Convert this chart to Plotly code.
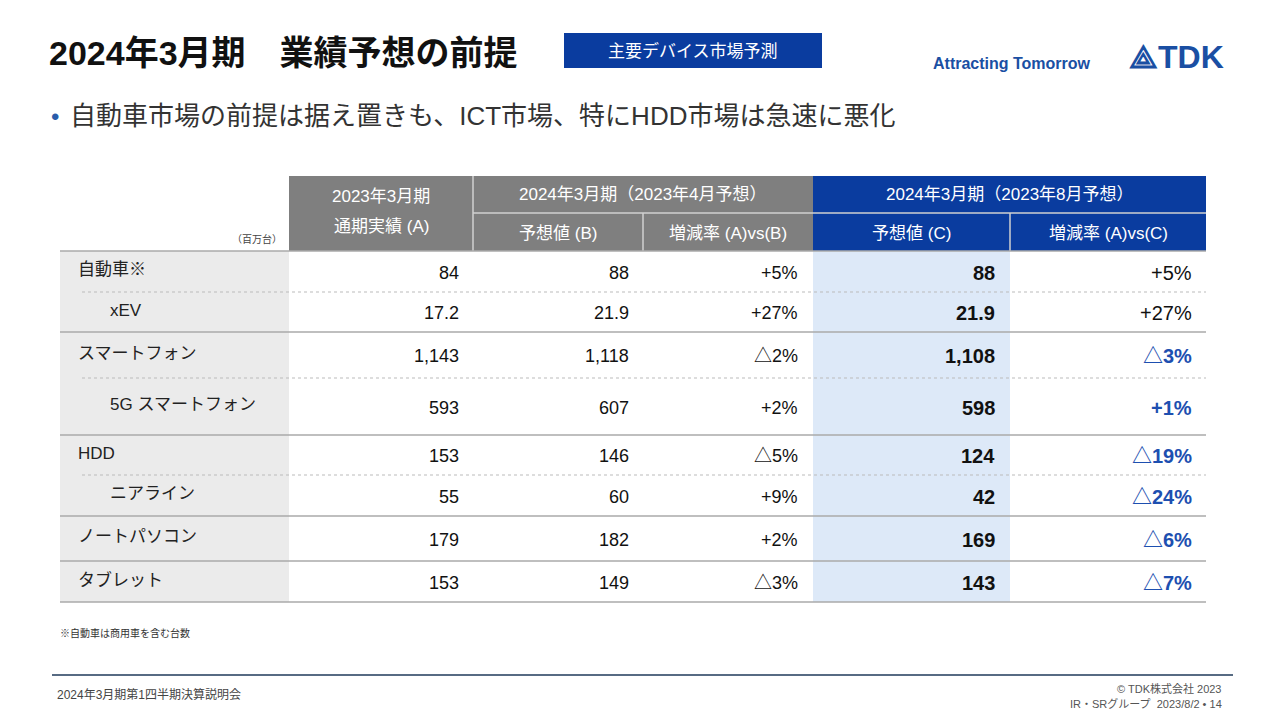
import plotly.graph_objects as go

categories = ["自動車※", "xEV", "スマートフォン", "5G スマートフォン", "HDD", "ニアライン", "ノートパソコン", "タブレット"]
is_sub = [False, True, False, True, False, True, False, False]
actual_a = ["84", "17.2", "1,143", "593", "153", "55", "179", "153"]
forecast_b = ["88", "21.9", "1,118", "607", "146", "60", "182", "149"]
rate_ab = ["+5%", "+27%", "△2%", "+2%", "△5%", "+9%", "+2%", "△3%"]
forecast_c = ["88", "21.9", "1,108", "598", "124", "42", "169", "143"]
rate_ac = ["+5%", "+27%", "△3%", "+1%", "△19%", "△24%", "△6%", "△7%"]
row_edges = [251, 292, 332, 378, 435, 475, 516, 561, 602]

F = "Liberation Sans, Arial, Noto Sans CJK JP"
BLUE = "#0a3c9f"
GRAY = "#7f7f7f"
fig = go.Figure()
shapes = []
ann = []

def rect(x0, y0, x1, y1, color):
    shapes.append(dict(type="rect", x0=x0, y0=y0, x1=x1, y1=y1, fillcolor=color,
                       line=dict(width=0), layer="below"))

def line(x0, y0, x1, y1, color, w=1, dash=None):
    shapes.append(dict(type="line", x0=x0, y0=y0, x1=x1, y1=y1,
                       line=dict(color=color, width=w, dash=dash)))

def text(x, y, t, size, color="#222", xa="left", bold=False, ya="middle", fam=F):
    if bold:
        t = "<b>" + t + "</b>"
    ann.append(dict(x=x, y=y, text=t, showarrow=False, xanchor=xa, yanchor=ya,
                    font=dict(family=fam, size=size, color=color)))

# Title area
text(47, 53, "2024年3月期　業績予想の前提", 34, "#111", bold=True)
rect(564, 33, 822, 68, BLUE)
text(693, 51, "主要デバイス市場予測", 17, "white", xa="center")
text(1012, 63, "Attracting Tomorrow", 16, "#1a4fa3", xa="center", bold=True)
text(1176, 57, "⟁TDK", 32, "#1a4fa3", xa="center", bold=True)
text(49, 116, "•", 24, "#2a5caa")
text(68, 116, "自動車市場の前提は据え置きも、ICT市場、特にHDD市場は急速に悪化", 26, "#333")

# header
rect(289, 176, 813, 251, GRAY)
rect(813, 176, 1206, 251, BLUE)
line(473, 176, 473, 251, "#d0d0d0", 1.5)
line(473, 213, 813, 213, "#d0d0d0", 1.5)
line(813, 213, 1206, 213, "#d0d0d0", 1.5)
line(643, 213, 643, 251, "#d0d0d0", 1.5)
line(1010, 213, 1010, 251, "#d0d0d0", 1.5)
text(381, 196, "2023年3月期", 17, "white", xa="center")
text(381, 226, "通期実績 (A)", 17, "white", xa="center")
text(643, 194, "2024年3月期（2023年4月予想）", 17, "white", xa="center")
text(558, 233, "予想値 (B)", 17, "white", xa="center")
text(728, 233, "増減率 (A)vs(B)", 17, "white", xa="center")
text(1010, 194, "2024年3月期（2023年8月予想）", 17, "white", xa="center")
text(911, 233, "予想値 (C)", 17, "white", xa="center")
text(1108, 233, "増減率 (A)vs(C)", 17, "white", xa="center")
text(284, 239, "（百万台）", 10, "#444", xa="right")

# body backgrounds
rect(60, 251, 289, 602, "#ebebeb")
rect(813, 251, 1010, 602, "#dde9f8")
line(60, 251, 1206, 251, "#aaaaaa", 1.5)

for i, cat in enumerate(categories):
    y0, y1 = row_edges[i], row_edges[i + 1]
    yc = (y0 + y1) / 2 + 1
    if i > 0:
        if is_sub[i]:
            line(82, y0, 1206, y0, "#bbbbbb", 1, "dot")
        else:
            line(60, y0, 1206, y0, "#aaaaaa", 1.5)
    lx = 108 if is_sub[i] else 76
    text(lx, yc - 3, cat, 17, "#222")
    text(461, yc, actual_a[i], 18, "#111", xa="right")
    text(631, yc, forecast_b[i], 18, "#111", xa="right")
    text(800, yc, rate_ab[i], 18, "#111", xa="right")
    text(997, yc, forecast_c[i], 20, "#111", xa="right", bold=True)
    col = "#111" if i < 2 else "#1d4fb0"
    text(1194, yc, rate_ac[i], 20, col, xa="right", bold=i >= 2)
line(60, 602, 1206, 602, "#aaaaaa", 1.5)

# footer
text(58, 633, "※自動車は商用車を含む台数", 10, "#333")
line(52, 675, 1233, 675, "#1f3a5a", 1.5)
text(55, 694, "2024年3月期第1四半期決算説明会", 12, "#444")
text(1224, 688, "© TDK株式会社 2023", 11, "#555", xa="right")
text(1224, 703, "IR・SRグループ  2023/8/2 • 14", 11, "#555", xa="right")

# page body has an 8px margin: offset ranges so coordinates match the page
fig.update_layout(width=1281, height=720, margin=dict(l=0, r=0, t=0, b=0),
                  plot_bgcolor="white", paper_bgcolor="white",
                  shapes=shapes, annotations=ann, showlegend=False)
fig.update_xaxes(range=[8, 1289], visible=False, fixedrange=True)
fig.update_yaxes(range=[728, 8], visible=False, fixedrange=True)
fig.write_html("out.html")
